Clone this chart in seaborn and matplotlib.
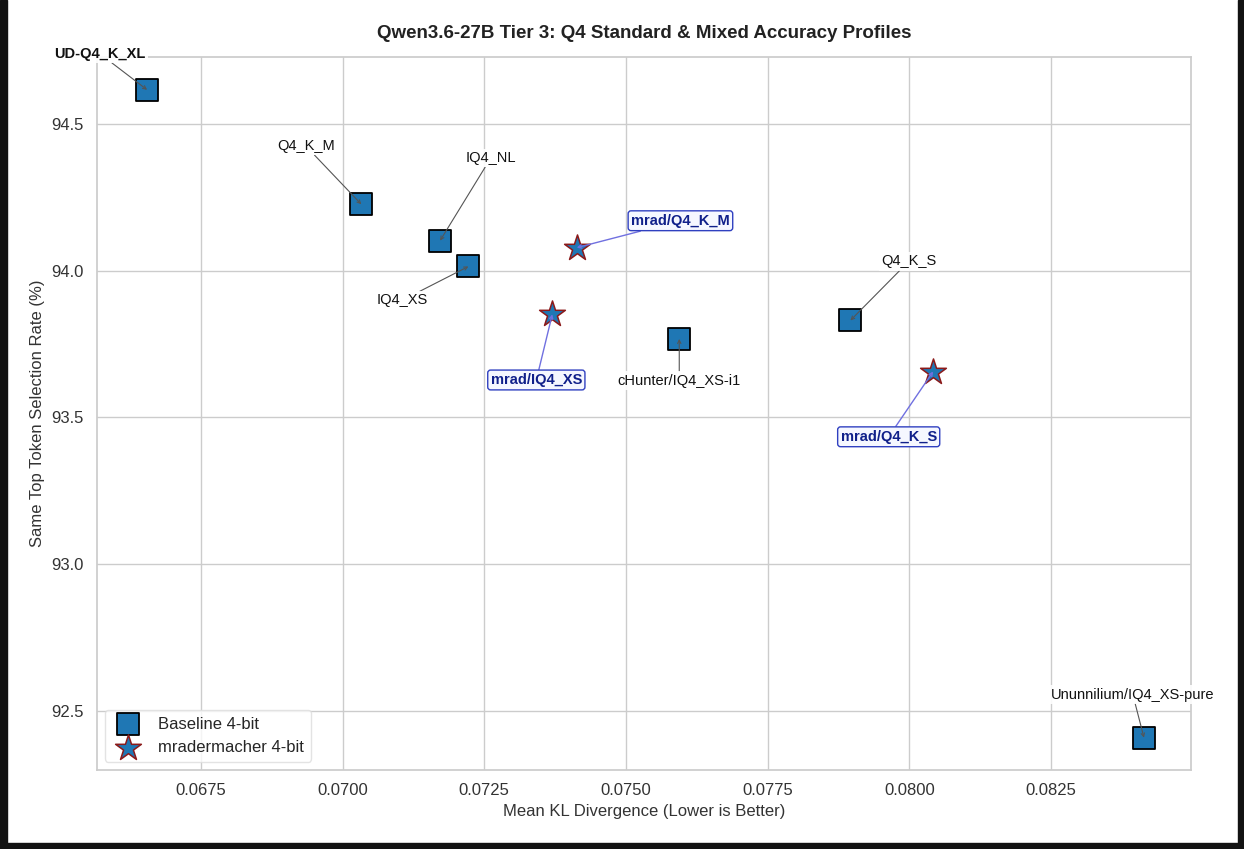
import matplotlib
matplotlib.use("Agg")
import matplotlib.pyplot as plt
import seaborn as sns
import pandas as pd
from matplotlib.patches import Rectangle

# ---------------- data ----------------
base_names = ["UD-Q4_K_XL", "Q4_K_M", "IQ4_NL", "IQ4_XS", "cHunter/IQ4_XS-i1",
              "Q4_K_S", "Ununnilium/IQ4_XS-pure"]
base_kld = [0.06655, 0.07033, 0.07172, 0.07222, 0.07594, 0.07896, 0.08414]
base_same = [94.616, 94.226, 94.102, 94.014, 93.767, 93.830, 92.408]

mrad_names = ["mrad/Q4_K_M", "mrad/IQ4_XS", "mrad/Q4_K_S"]
mrad_kld = [0.07413, 0.07370, 0.08042]
mrad_same = [94.078, 93.851, 93.656]

title = "Qwen3.6-27B Tier 3: Q4 Standard & Mixed Accuracy Profiles"
xlabel = "Mean KL Divergence (Lower is Better)"
ylabel = "Same Top Token Selection Rate (%)"

# label offsets (points) relative to each marker
base_offsets = [(-34, 26), (-40, 42), (36.5, 59.5), (-48, -24.5), (0, -30), (42, 42.5), (-8, 31)]
mrad_offsets = [(74.7, 19.4), (-11.5, -47.3), (-32, -47)]

# ---------------- style ----------------
sns.set_theme(style="whitegrid")
plt.rcParams["font.family"] = ["Liberation Sans", "DejaVu Sans"]

fig = plt.figure(figsize=(12.44, 8.49), dpi=100)
ax = fig.add_axes([0.0777, 0.0931, 0.8797, 0.8398])

base_df = pd.DataFrame({"kld": base_kld, "same": base_same, "name": base_names})
mrad_df = pd.DataFrame({"kld": mrad_kld, "same": mrad_same, "name": mrad_names})

sns.scatterplot(data=base_df, x="kld", y="same", marker="s", s=235,
                color="#1f77b4", edgecolor="black", linewidth=1.3,
                label="Baseline 4-bit", ax=ax, zorder=3)
sns.scatterplot(data=mrad_df, x="kld", y="same", marker="*", s=380,
                color="#1f77b4", edgecolor="#8b1a1a", linewidth=1.1,
                label="mradermacher 4-bit", ax=ax, zorder=3)

for name, x, y, off in zip(base_names, base_kld, base_same, base_offsets):
    bold = name == "UD-Q4_K_XL"
    ax.annotate(name, xy=(x, y), xytext=off, textcoords="offset points",
                ha="center", va="center", fontsize=10.5,
                fontweight="bold" if bold else "normal", color="#111111",
                bbox=dict(boxstyle="square,pad=0.15", fc="white", ec="none", alpha=0.9),
                arrowprops=dict(arrowstyle="->", color="#555555", lw=0.8,
                                mutation_scale=6, shrinkA=0, shrinkB=0),
                zorder=4)

for name, x, y, off in zip(mrad_names, mrad_kld, mrad_same, mrad_offsets):
    ax.annotate(name, xy=(x, y), xytext=off, textcoords="offset points",
                ha="center", va="center", fontsize=10.5, fontweight="bold",
                color="#10208a",
                bbox=dict(boxstyle="round,pad=0.2", fc="#f5f7ff", ec="#3040c0", lw=1.0),
                arrowprops=dict(arrowstyle="->", color="#7070e0", lw=1.0,
                                mutation_scale=6, shrinkA=0, shrinkB=0),
                zorder=4)

ax.set_xlim(0.06566, 0.08497)
ax.set_ylim(92.298, 94.728)
ax.set_title(title, fontsize=13.5, fontweight="bold", color="#222222", pad=14)
ax.set_xlabel(xlabel, fontsize=12, color="#333333")
ax.set_ylabel(ylabel, fontsize=12, color="#333333")
ax.tick_params(axis="both", labelsize=12, colors="#333333")
ax.xaxis.set_major_formatter(matplotlib.ticker.FormatStrFormatter("%.4f"))
ax.yaxis.set_major_formatter(matplotlib.ticker.FormatStrFormatter("%.1f"))

leg = ax.legend(loc="lower left", fontsize=12, frameon=True)
leg.get_frame().set_edgecolor("#dddddd")

# dark screenshot frame
W, H = 1244, 849
for (x0, y0, w, h) in [(0, 0, 7, H), (1238, 0, 6, H), (0, 0, W, 6)]:
    fig.patches.append(Rectangle((x0 / W, y0 / H), w / W, h / H,
                                 transform=fig.transFigure, color="#121212", zorder=10))

fig.savefig("out.png", dpi=100)
